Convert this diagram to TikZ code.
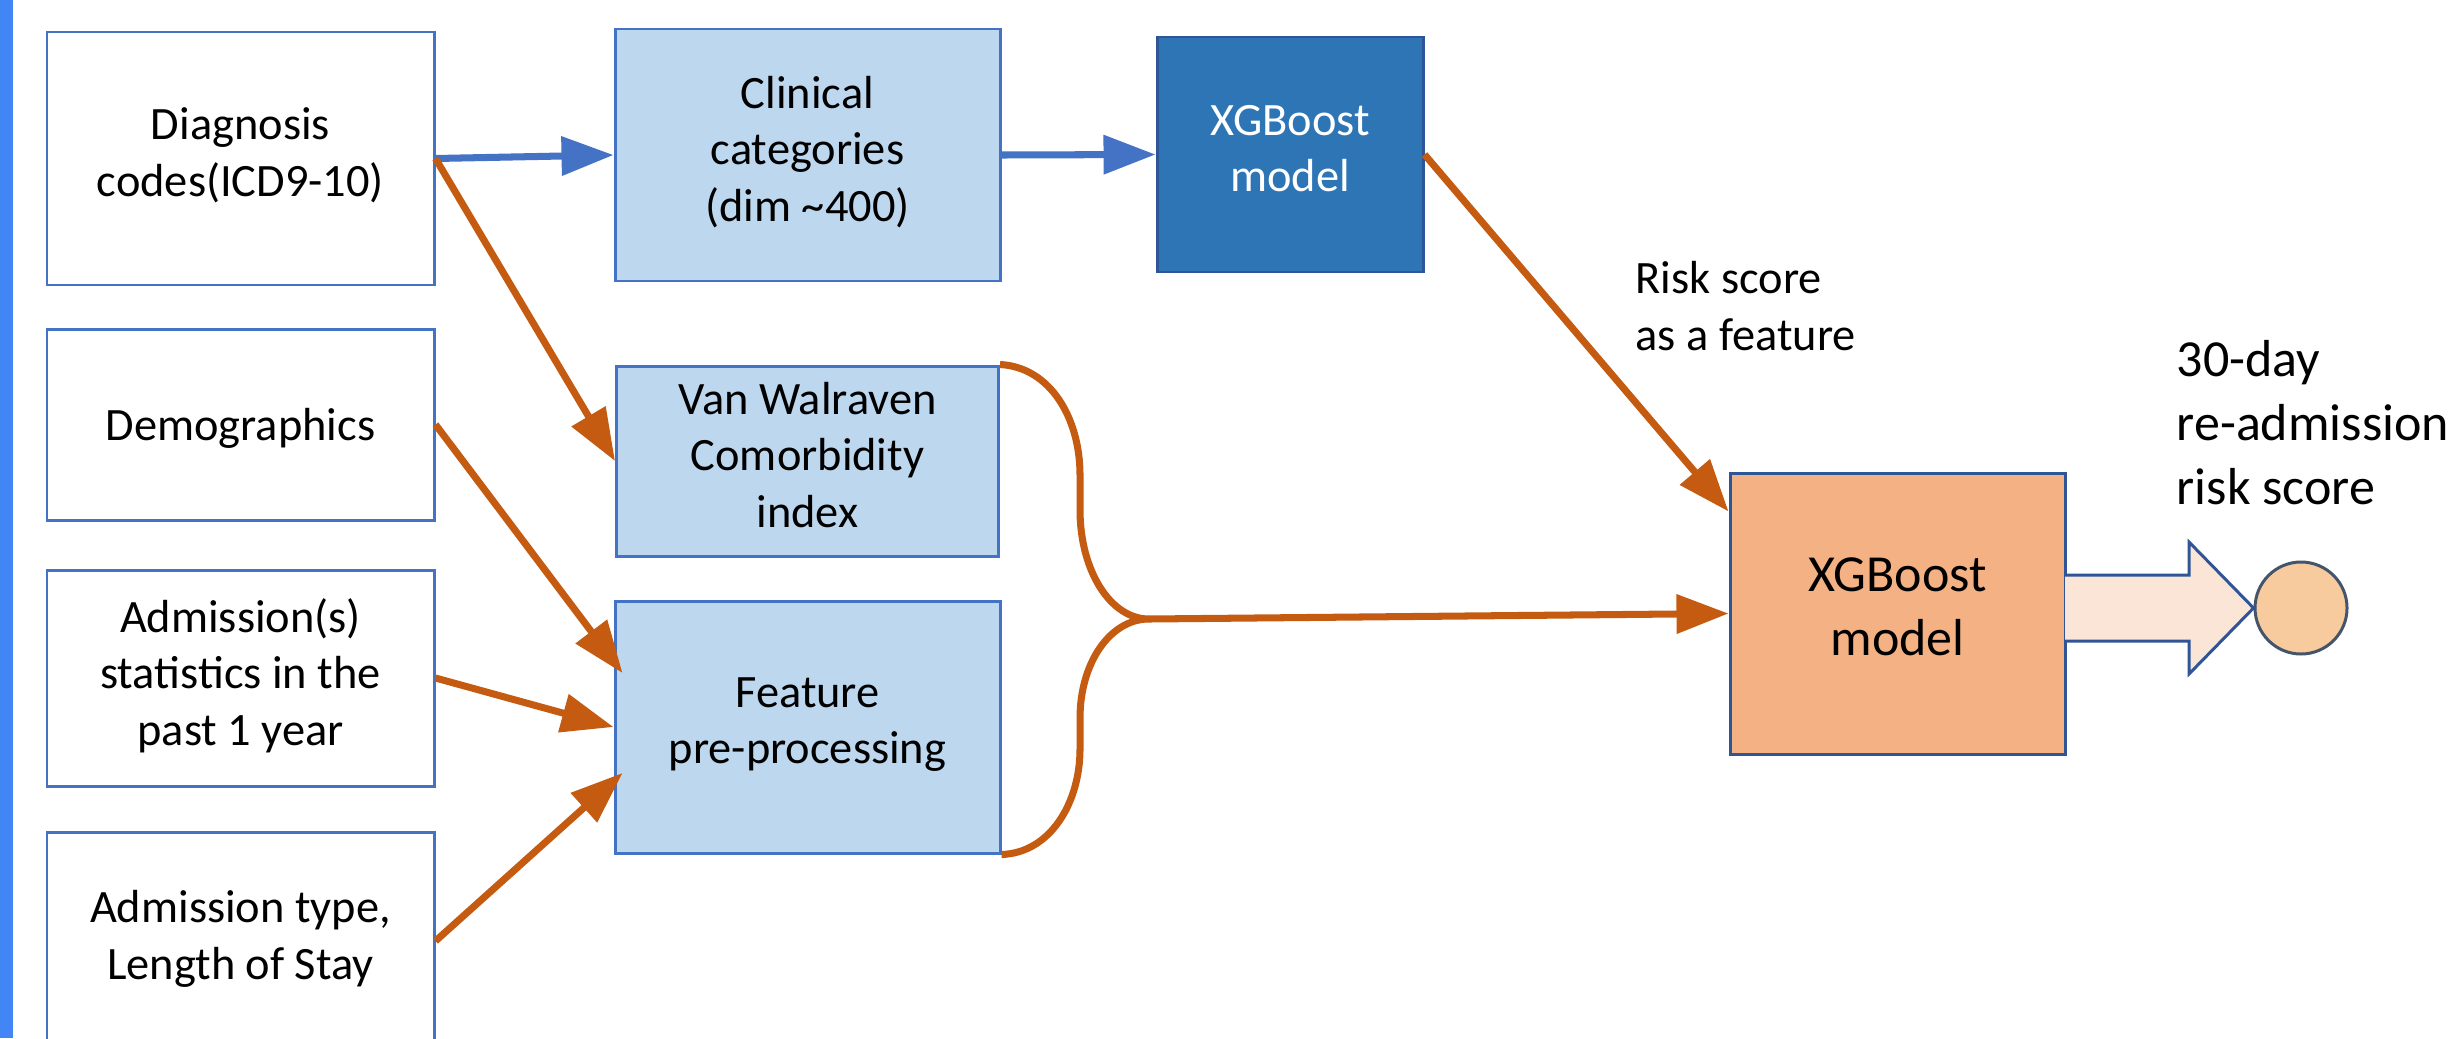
\documentclass[tikz,border=0pt]{standalone}
\usepackage{fontspec}
\setmainfont{Carlito}
\usetikzlibrary{calc,arrows.meta}
\definecolor{boxblue}{HTML}{4472C4}
\definecolor{lightfill}{HTML}{BDD7EE}
\definecolor{darkfill}{HTML}{2E75B6}
\definecolor{darkline}{HTML}{2F5597}
\definecolor{orangefill}{HTML}{F4B183}
\definecolor{orangeline}{HTML}{C55A11}
\definecolor{arrowfill}{HTML}{FBE5D6}
\definecolor{dotfill}{HTML}{F8CB9E}
\definecolor{dotline}{HTML}{44546A}
\definecolor{sidebar}{HTML}{4285F4}
\newcommand{\boxfont}{\fontsize{13.2}{16.1}\selectfont}
\newcommand{\bigfont}{\fontsize{14.8}{18.1}\selectfont}
% line box of one text line (ascent + descent)
\newcommand{\linestrut}{\rule[-0.269em]{0pt}{1.221em}}

\begin{document}
\begin{tikzpicture}[font=\boxfont]
  \tikzset{every node/.style={inner sep=0pt},>={Triangle[length=5.2mm,width=3.8mm]}}
  \tikzstyle{textbox}=[align=center,execute at begin node=\linestrut,execute at end node=\linestrut]
  \tikzstyle{inbox}=[textbox,draw=boxblue,line width=0.85pt,minimum width=3.87cm]
  \tikzstyle{midbox}=[inbox,fill=lightfill,minimum width=3.85cm]
  \tikzstyle{model}=[textbox,draw=darkline,line width=0.85pt]
  \tikzstyle{blueflow}=[->,boxblue,line width=2pt]
  \tikzstyle{flow}=[->,orangeline,line width=2pt]

  \def\W{24.49}
  \def\H{10.38}
  \def\colA{2.405}
  \def\colB{8.075}

  \useasboundingbox (0,0) rectangle (\W,\H);
  \clip (0,0) rectangle (\W,\H);

  % side bar
  \fill[sidebar] (0,0) rectangle (0.13,\H);

  % input boxes
  \node[inbox,minimum height=2.53cm] (diag)  at (\colA,8.795) {Diagnosis\\codes(ICD9-10)};
  \node[inbox,minimum height=1.91cm] (demo)  at (\colA,6.135) {Demographics};
  \node[inbox,minimum height=2.16cm] (stats) at (\colA,3.60)  {Admission(s)\\statistics in the\\past 1 year};
  \node[inbox,minimum height=2.18cm] (adm)   at (\colA,0.97)  {Admission type,\\Length of Stay};

  % middle boxes
  \node[midbox,minimum height=2.52cm] (clin) at (\colB,8.83) {Clinical\\categories\\(dim \textasciitilde400)};
  \node[midbox,minimum height=1.90cm,minimum width=3.82cm] (vanw) at (\colB,5.77) {Van Walraven\\Comorbidity\\index};
  \node[midbox,minimum height=2.52cm] (feat) at (\colB,3.11) {Feature\\pre-processing};

  % models
  \node[model,fill=darkfill,text=white,minimum width=2.66cm,minimum height=2.35cm] (xgb1) at (12.90,8.835) {XGBoost\\model};
  \node[model,fill=orangefill,font=\bigfont,minimum width=3.35cm,minimum height=2.81cm] (xgb2) at (18.975,4.245) {XGBoost\\model};

  % output
  \node[circle,draw=dotline,fill=dotfill,line width=0.85pt,minimum size=0.92cm] (dot) at (23.01,4.30) {};
  \draw[darkline,fill=arrowfill,line width=0.85pt]
    (20.65,4.63) -- (21.89,4.63) -- (21.89,4.96) -- (dot.west)
    -- (21.89,3.64) -- (21.89,3.97) -- (20.65,3.97);

  % labels
  \node[anchor=base west,align=left] (risk) at (16.35,6.88) {Risk score\\as a feature};
  \node[anchor=base west,align=left,font=\bigfont] (result) at (21.76,5.34) {30-day\\re-admission\\risk score};

  % arrows
  \draw[blueflow] (diag.east) -- (clin.west);
  \draw[blueflow] (clin.east) -- (xgb1.west);
  \draw[flow] (diag.east) -- (vanw.west);
  \draw[flow] (demo.east) -- ([shift={(0.09,0.54)}]feat.west);
  \draw[flow] (stats.east) -- (feat.west);
  \draw[flow] (adm.east) -- ([shift={(0.09,-0.46)}]feat.west);
  \draw[flow] (xgb1.east) -- ([yshift=-0.4cm]xgb2.north west);

  % brace joining the two feature boxes
  \draw[orangeline,line width=2pt]
    (vanw.north east) .. controls (10.50,6.71) and (10.80,6.20) .. (10.80,5.63)
    -- (10.80,5.28) .. controls (10.80,4.68) and (11.10,4.19) .. (11.49,4.19) coordinate (brace)
    .. controls (11.10,4.19) and (10.80,3.75) .. (10.80,3.20)
    -- (10.80,2.89) .. controls (10.80,2.35) and (10.50,1.85) .. (feat.south east);
  \draw[flow] (brace) -- (xgb2.west);

\end{tikzpicture}
\end{document}
